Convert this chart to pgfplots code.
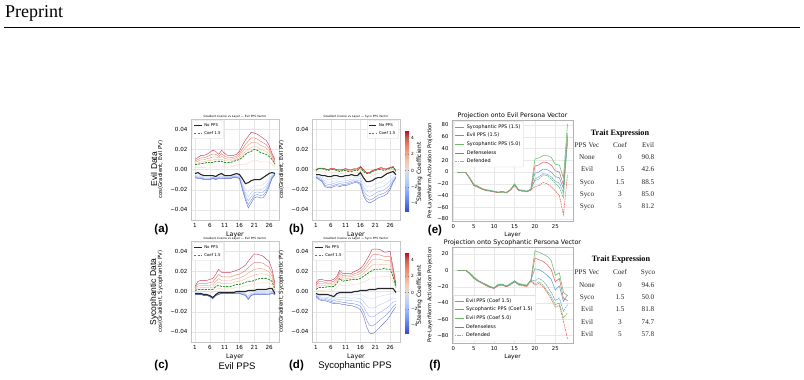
\documentclass[border=0pt]{standalone}
\usepackage{fontspec}
\usepackage{pgfplots}
\usepackage{pgfplotstable}
\pgfplotsset{compat=1.18}
\setmainfont{DejaVu Sans}
\newfontfamily\lsans{Liberation Sans}
\newfontfamily\lserif{Liberation Serif}
\newcommand\fs[1]{\fontsize{#1}{#1}\selectfont}

% coolwarm shades for steering coefficients -5 ... 5
\definecolor{cwm5}{RGB}{59,76,192}
\definecolor{cwm4}{RGB}{89,118,226}
\definecolor{cwm3}{RGB}{124,159,249}
\definecolor{cwm2}{RGB}{160,190,254}
\definecolor{cwm1}{RGB}{192,212,245}
\definecolor{cwp1}{RGB}{242,203,183}
\definecolor{cwp2}{RGB}{246,167,137}
\definecolor{cwp3}{RGB}{238,132,104}
\definecolor{cwp4}{RGB}{217,90,71}
\definecolor{cwp5}{RGB}{180,4,38}
\definecolor{coefgreen}{RGB}{44,150,44}
\definecolor{pblue}{RGB}{98,160,203}
\definecolor{pred}{RGB}{226,104,105}
\definecolor{pgreen}{RGB}{107,189,107}
\pgfplotsset{colormap={coolwarm}{rgb255=(59,76,192) rgb255=(89,118,226) rgb255=(124,159,249) rgb255=(160,190,254) rgb255=(192,212,245) rgb255=(221,221,221) rgb255=(242,203,183) rgb255=(246,167,137) rgb255=(238,132,104) rgb255=(217,90,71) rgb255=(180,4,38)}}

% gradient cosine per layer, in units of 1e-3; columns = steering coefficient
\pgfplotstableread{
L m5 m4 m3 m2 m1 z p1 p2 p3 p4 p5 g
1 -8 -7.5 -6.9 -6.2 -5.4 -4 1.9 6.0 7.3 8.5 10 5
2 -9 -8.2 -7.3 -6.3 -5.1 -3 2.2 6.4 8.2 9.9 12 5
3 -9 -8.5 -7.9 -7.2 -6.4 -5 2.2 7.6 9.6 11.6 14 6
4 -10 -9.5 -8.9 -8.2 -7.4 -6 1.8 7.6 9.6 11.6 14 6
5 -10 -9.5 -8.9 -8.2 -7.4 -6 2.5 8.6 10.6 12.6 15 7
6 -10 -9.5 -8.9 -8.2 -7.4 -6 2.5 9.0 11.5 14.0 17 7
7 -9 -8.6 -8.2 -7.7 -7.1 -6 2.5 9.4 12.4 15.4 19 7
8 -10 -9.6 -9.2 -8.7 -8.1 -7 2.8 10.0 12.5 15.0 18 8
9 -9 -8.5 -7.9 -7.2 -6.4 -5 3.5 9.4 11.2 12.9 15 8
10 -9 -8.4 -7.6 -6.8 -5.8 -4 3.8 10.2 13.0 15.7 19 8
11 -9 -8.6 -8.2 -7.7 -7.1 -6 2.5 8.8 11.1 13.3 16 7
12 -9 -8.6 -8.2 -7.7 -7.1 -6 2.5 8.4 10.2 11.9 14 7
13 -9 -8.6 -8.2 -7.7 -7.1 -6 2.5 8.4 10.2 11.9 14 7
14 -8 -7.6 -7.2 -6.7 -6.1 -5 3.5 9.2 10.7 12.2 14 8
15 -8 -7.5 -6.9 -6.2 -5.4 -4 4.5 10.2 11.7 13.2 15 9
16 -9 -8.5 -7.9 -7.2 -6.4 -5 4.8 11.6 13.6 15.6 18 10
17 -20 -18.6 -16.9 -15.1 -12.9 -9 4.7 14.4 17.4 20.4 24 12
18 -30 -27.9 -25.5 -22.8 -19.6 -14 4.9 17.8 21.3 24.8 29 15
19 -38 -34.8 -31.0 -26.8 -21.8 -13 6.5 20.2 24.2 28.2 33 17
20 -33 -30.1 -26.8 -23.1 -18.7 -11 7.9 21.8 26.6 31.3 37 18
21 -28 -25.7 -23.0 -19.9 -16.3 -10 9.5 23.2 27.2 31.2 36 20
22 -27 -24.8 -22.2 -19.4 -16.0 -10 8.9 22.2 26.2 30.2 35 19
23 -28 -25.7 -23.0 -19.9 -16.3 -10 7.6 20.2 24.2 28.2 33 17
24 -28 -25.4 -22.4 -19.0 -15.0 -8 7.6 19.0 22.8 26.5 31 16
25 -24 -21.7 -19.0 -15.9 -12.3 -6 7.7 17.8 21.3 24.8 29 15
26 -17 -15.3 -13.4 -11.2 -8.6 -4 7.1 15.2 18.0 20.7 24 13
27 -9 -8.2 -7.3 -6.3 -5.1 -3 5.5 11.2 12.7 14.2 16 10
28 -5 -4.8 -4.6 -4.4 -4.2 -4 1.9 6.0 7.3 8.5 10 5
}\evilEvil

\pgfplotstableread{
L m5 m4 m3 m2 m1 z p1 p2 p3 p4 p5 g
1 -8 -7.6 -7.1 -6.5 -5.8 -5 -2.8 -0.7 -0.4 -0.2 0 -1
2 -10 -9.4 -8.5 -7.5 -6.3 -5 -1.7 0.8 1.0 1.2 1.4 1
3 -12 -11.2 -10.2 -9.0 -7.5 -6 -2.2 0.8 1.0 1.2 1.4 1
4 -17 -15.6 -13.7 -11.5 -8.8 -6 -2.7 0.2 0.4 0.6 0.8 0
5 -18 -16.6 -14.7 -12.5 -9.8 -7 -3.7 -0.7 -0.4 -0.2 0 -1
6 -18 -16.6 -14.7 -12.5 -9.8 -7 -3.2 0.3 0.6 0.8 1 0
7 -17 -15.6 -13.7 -11.5 -8.8 -6 -2.7 0.3 0.6 0.8 1 0
8 -16 -14.7 -13.0 -11.0 -8.5 -6 -3.3 -0.7 -0.4 -0.2 0 -1
9 -17 -15.7 -14.0 -12.0 -9.5 -7 -4.3 -1.4 -0.8 -0.4 0 -2
10 -16 -14.8 -13.3 -11.5 -9.3 -7 -3.7 -0.7 -0.4 -0.2 0 -1
11 -16 -14.7 -13.0 -11.0 -8.5 -6 -3.3 -0.4 0.2 0.6 1 -1
12 -15 -13.8 -12.3 -10.5 -8.3 -6 -3.8 -1.4 -0.8 -0.4 0 -2
13 -14 -12.8 -11.3 -9.5 -7.3 -5 -3.4 -1.4 -0.8 -0.4 0 -2
14 -13 -12.1 -10.9 -9.5 -7.8 -6 -3.3 -0.4 0.2 0.6 1 -1
15 -13 -12.1 -10.9 -9.5 -7.8 -6 -3.3 -0.4 0.2 0.6 1 -1
16 -15 -13.4 -11.4 -9.0 -6.0 -3 -0.3 2.3 2.6 2.8 3 2
17 -26 -23.7 -20.6 -17.0 -12.5 -8 -4.7 -1.4 -0.8 -0.4 0 -2
18 -31 -28.5 -25.3 -21.5 -16.8 -12 -7.6 -3.7 -3.4 -3.2 -3 -4
19 -33 -30.3 -26.7 -22.5 -17.3 -12 -7.6 -3.7 -3.4 -3.2 -3 -4
20 -32 -29.3 -25.7 -21.5 -16.3 -11 -6.1 -1.7 -1.4 -1.2 -1 -2
21 -30 -27.3 -23.7 -19.5 -14.3 -9 -4.6 -0.7 -0.4 -0.2 0 -1
22 -28 -25.4 -22.0 -18.0 -13.0 -8 -3.6 0.3 0.6 0.8 1 0
23 -27 -24.5 -21.3 -17.5 -12.8 -8 -3.6 0.6 1.2 1.6 2 0
24 -26 -23.4 -20.0 -16.0 -11.0 -6 -3.3 -0.4 0.2 0.6 1 -1
25 -24 -21.4 -18.0 -14.0 -9.0 -4 -1.8 0.3 0.6 0.8 1 0
26 -20 -17.8 -14.9 -11.5 -7.3 -3 -0.8 1.3 1.6 1.8 2 1
27 -13 -11.6 -9.7 -7.5 -4.8 -2 0.2 2.3 2.6 2.8 3 2
28 -8 -7.6 -7.1 -6.5 -5.8 -5 -2.8 -1.3 -1.6 -1.8 -2 -1
}\evilSyco

\pgfplotstableread{
L m5 m4 m3 m2 m1 z p1 p2 p3 p4 p5 g
1 -3 -2.9 -2.8 -2.6 -2.3 -2 -0.2 1.8 2.7 3.7 5 1
2 -3 -2.9 -2.8 -2.6 -2.3 -2 0.4 3.6 5.4 7.4 10 2
3 -3 -2.9 -2.8 -2.6 -2.3 -2 0.4 3.8 5.8 8.1 11 2
4 -4 -3.9 -3.8 -3.6 -3.3 -3 0 3.8 5.8 8.1 11 2
5 -4 -3.9 -3.8 -3.6 -3.3 -3 0 3.8 5.8 8.1 11 2
6 -5 -4.9 -4.8 -4.6 -4.3 -4 -0.4 4.0 6.2 8.8 12 2
7 -7 -6.9 -6.8 -6.6 -6.3 -6 -1.2 4.2 6.6 9.5 13 2
8 -4 -3.9 -3.8 -3.6 -3.3 -3 1.8 7.4 10.0 13.2 17 5
9 -3 -2.8 -2.5 -2.1 -1.6 -1 3.2 9.2 12.7 16.9 22 6
10 -2 -1.9 -1.8 -1.6 -1.3 -1 2.6 7.8 10.9 14.5 19 5
11 -2 -1.9 -1.8 -1.6 -1.3 -1 2.6 7.8 10.9 14.5 19 5
12 -2 -1.9 -1.8 -1.6 -1.3 -1 2.6 7.8 10.9 14.5 19 5
13 -2 -1.9 -1.8 -1.6 -1.3 -1 2.6 7.8 10.9 14.5 19 5
14 -2 -1.9 -1.8 -1.6 -1.3 -1 3.2 8.8 11.9 15.5 20 6
15 -2 -1.8 -1.5 -1.1 -0.6 0 4.2 9.8 12.9 16.5 21 7
16 -2 -1.8 -1.5 -1.1 -0.6 0 4.2 10.0 13.3 17.2 22 7
17 -3 -2.7 -2.3 -1.7 -0.9 0 4.8 11.2 14.7 18.9 24 8
18 -4 -3.6 -3.0 -2.2 -1.2 0 5.4 12.4 16.1 20.6 26 9
19 -8 -7.1 -5.8 -4.0 -1.7 1 6.4 14.0 18.4 23.6 30 10
20 -4 -3.5 -2.8 -1.8 -0.5 1 6.4 14.8 20.1 26.3 34 10
21 -3 -2.6 -2.0 -1.2 -0.2 1 7.0 16.2 21.9 28.7 37 11
22 -3 -2.5 -1.8 -0.8 0.5 2 8.0 17.0 22.5 29.0 37 12
23 -3 -2.5 -1.8 -0.8 0.5 2 8.6 17.6 22.7 28.6 36 13
24 -3 -2.5 -1.8 -0.8 0.5 2 8.6 17.4 22.2 28.0 35 13
25 -3 -2.5 -1.8 -0.8 0.5 2 8.6 16.8 21.0 25.9 32 13
26 -3 -2.4 -1.5 -0.3 1.2 3 8.4 15.6 19.6 24.2 30 12
27 -2 -1.5 -0.8 0.3 1.5 3 7.2 12.4 15.0 18.2 22 10
28 -3 -2.9 -2.8 -2.6 -2.3 -2 0.4 3.2 4.5 6.1 8 2
}\sycoEvil

\pgfplotstableread{
L m5 m4 m3 m2 m1 z p1 p2 p3 p4 p5 g
1 -5 -4.5 -3.9 -3.3 -2.6 -2 0.4 3.5 5.0 6.4 8 2
2 -8 -7.1 -6.1 -5.1 -4.0 -3 1.2 6.0 8.0 9.8 12 4
3 -9 -7.9 -6.7 -5.5 -4.2 -3 1.2 6.0 8.0 9.8 12 4
4 -9 -7.9 -6.7 -5.5 -4.2 -3 1.2 5.8 7.5 9.1 11 4
5 -10 -8.7 -7.3 -5.9 -4.4 -3 1.8 6.5 8.0 9.4 11 5
6 -11 -9.7 -8.3 -6.9 -5.4 -4 1.4 6.5 8.0 9.4 11 5
7 -12 -10.7 -9.3 -7.9 -6.4 -5 1.0 6.8 8.5 10.1 12 5
8 -12 -10.2 -8.2 -6.2 -4.0 -2 4.0 9.8 11.5 13.1 15 8
9 -12 -10.0 -7.8 -5.6 -3.2 -1 7.4 15.0 17.0 18.8 21 13
10 -13 -10.8 -8.4 -6.0 -3.4 -1 5.6 12.0 14.0 15.8 18 10
11 -13 -10.8 -8.4 -6.0 -3.4 -1 6.2 12.8 14.5 16.1 18 11
12 -14 -11.7 -9.1 -6.5 -3.6 -1 6.2 12.8 14.5 16.1 18 11
13 -14 -11.7 -9.1 -6.5 -3.6 -1 6.8 13.5 15.0 16.4 18 12
14 -15 -12.3 -9.3 -6.3 -3.0 0 7.2 14.0 16.0 17.8 20 12
15 -16 -13.1 -9.9 -6.7 -3.2 0 7.2 14.3 16.5 18.6 21 12
16 -18 -14.6 -10.8 -7.0 -2.8 1 8.2 15.5 18.0 20.3 23 13
17 -24 -19.5 -14.5 -9.5 -4.0 1 9.4 17.8 20.5 23.0 26 15
18 -34 -27.7 -20.7 -13.7 -6.0 1 10.6 20.5 24.0 27.2 31 17
19 -41 -33.3 -24.7 -16.1 -6.6 2 12.2 23.3 27.5 31.4 36 19
20 -42 -34.1 -25.3 -16.5 -6.8 2 13.4 26.3 31.5 36.3 42 21
21 -40 -32.4 -24.0 -15.6 -6.4 2 14.0 27.0 32.0 36.6 42 22
22 -37 -29.8 -21.8 -13.8 -5.0 3 14.4 27.0 32.0 36.6 42 22
23 -34 -27.3 -19.9 -12.5 -4.4 3 14.4 26.8 31.5 35.9 41 22
24 -31 -24.9 -18.1 -11.3 -3.8 3 15.0 27.0 31.0 34.7 39 23
25 -28 -22.4 -16.2 -10.0 -3.2 3 14.4 26.3 30.5 34.4 39 22
26 -24 -19.1 -13.7 -8.3 -2.4 3 14.4 26.5 31.0 35.1 40 22
27 -19 -15.0 -10.6 -6.2 -1.4 3 10.2 17.3 19.5 21.6 24 15
28 -15 -12.5 -9.7 -6.9 -3.8 -1 2.0 4.8 5.5 6.2 7 4
}\sycoSyco

% pre-LayerNorm projections; d = defenseless, D = defended
\pgfplotstableread{
L sd ed gd sD eD gD
1 -1 -1 -1 -1 -1 -1
2 -1 -1 -1 -1 -1 -1
3 -1 -1 -1 -1 -1 -1
4 -10 -11 -10 -10 -11 -10
5 -22 -23 -21 -22 -23 -22
6 -25 -26 -24 -25 -25 -25
7 -29 -29 -28 -29 -30 -29
8 -31 -32 -30 -31 -31 -31
9 -32 -32 -31 -32 -33 -32
10 -33 -34 -33 -33 -34 -33
11 -35 -35 -34 -35 -35 -35
12 -34 -33 -33 -34 -34 -34
13 -35 -36 -35 -35 -35 -35
14 -30 -31 -30 -30 -31 -30
15 -21 -23 -20 -22 -22 -21
16 -31 -31 -30 -31 -32 -31
17 -32 -32 -31 -32 -33 -32
18 -33 -34 -33 -33 -33 -33
19 -30 -31 -29 -31 -31 -30
20 -2 10 22 -12 -25 -15
21 0 12 24 -8 -23 -12
22 5 17 28 -3 -18 -5
23 4 16 28 -4 -20 -6
24 0 12 25 -8 -25 -12
25 -8 2 13 -16 -32 -20
26 -10 0 12 -19 -40 -26
27 -28 -22 -10 -36 -73 -44
28 56 62 82 50 -5 66
}\projEvil

\pgfplotstableread{
L sd ed gd sD eD gD
1 0 0 0 0 0 0
2 0 0 0 0 0 0
3 0 0 0 0 0 0
4 -4 -4 -3 -4 -4 -4
5 -9 -9 -8 -9 -10 -9
6 -13 -13 -12 -13 -13 -13
7 -15 -16 -15 -15 -15 -15
8 -18 -18 -17 -18 -19 -18
9 -20 -21 -20 -20 -21 -20
10 -22 -22 -21 -22 -22 -22
11 -18 -18 -17 -18 -19 -18
12 -17 -18 -17 -17 -18 -17
13 -20 -20 -19 -20 -20 -20
14 -17 -17 -16 -17 -18 -17
15 -13 -14 -13 -13 -14 -13
16 -17 -17 -16 -17 -18 -17
17 -18 -18 -17 -18 -19 -18
18 -19 -19 -18 -19 -20 -19
19 -12 -13 -12 -12 -13 -12
20 2 15 24 -13 -18 -16
21 1 13 22 -10 -16 -14
22 -2 11 20 -13 -20 -18
23 -6 7 17 -19 -27 -25
24 -11 1 12 -27 -35 -32
25 -24 -14 -6 -37 -45 -42
26 -19 -10 -3 -34 -43 -40
27 -38 -34 -27 -50 -62 -58
28 -30 -37 -31 -42 -84 -52
}\projSyco

\pgfplotsset{
  /pgf/number format/assume math mode=true,
  fan/.style={#1, line width=0.45pt, opacity=0.75, forget plot},
  gcos/.style={
    scale only axis, width=88pt, height=101pt,
    xmin=-0.35, xmax=29.35, ymin=-50, ymax=50,
    xtick={1,6,11,16,21,26}, xticklabels={1,6,11,16,21,26},
    ytick={-40,-20,0,20,40},
    yticklabels={−0.04,−0.02,0.00,0.02,0.04},
    grid=major, major grid style={gray!20, line width=0.35pt},
    axis line style={gray!45, line width=0.4pt},
    major tick length=0pt,
    tick label style={font=\fs{5.6}},
    xlabel={Layer}, xlabel style={font=\fs{6.3}, yshift=3pt},
    ylabel style={font=\fs{5.4}, yshift=0.5pt},
    title style={font=\fs{2.9}, yshift=-8.5pt},
    legend cell align=left,
    legend image code/.code={\draw[##1] (0pt,0pt) -- (7.5pt,0pt);},
    legend style={font=\fs{3.9}, draw=gray!35, fill=white, rounded corners=0.8pt,
      inner xsep=1.2pt, inner ysep=0.6pt, row sep=-0.5pt, line width=0.3pt,
      at={(0.015,0.985)}, anchor=north west},
  },
  proj/.style={
    scale only axis, width=121pt,
    xmin=-0.35, xmax=29.35,
    xtick={0,5,10,15,20,25}, xticklabels={0,5,10,15,20,25},
    grid=major, major grid style={gray!18, line width=0.35pt},
    axis line style={gray!60, line width=0.45pt},
    major tick length=0pt,
    tick label style={font=\fs{5.3}},
    xlabel={Layer}, xlabel style={font=\fs{5.9}, yshift=3pt},
    ylabel={Pre-LayerNorm Activation Projection},
    ylabel style={font=\fs{5.3}, yshift=-2pt},
    title style={font=\fs{6.3}, yshift=-8pt},
    legend cell align=left,
    legend image code/.code={\draw[##1] (0pt,0pt) -- (9pt,0pt);},
    legend style={font=\fs{4.9}, draw=gray!40, fill=white, rounded corners=1pt,
      inner xsep=1.2pt, inner ysep=0.8pt, row sep=-0.6pt, line width=0.3pt},
  },
  cbar/.style={
    colorbar, colormap name=coolwarm, point meta min=-5, point meta max=5,
    colorbar style={at={(parent axis.north east)}, anchor=north west,
      xshift=-3.5pt, yshift=-11pt, scale only axis, width=4pt, height=81pt,
      ytick={-4,-2,0,2,4}, yticklabels={−4,−2,0,2,4},
      yticklabel style={font=\fs{4.3}, xshift=-1.5pt},
      major tick length=1.2pt, tick style={gray, line width=0.3pt},
      axis line style={draw=none}},
  },
}

\newcommand\gradlines[1]{%
  \addplot[fan=cwm1] table[x=L,y=m1]{#1};
  \addplot[fan=cwp1] table[x=L,y=p1]{#1};
  \addplot[fan=cwm2] table[x=L,y=m2]{#1};
  \addplot[fan=cwp2] table[x=L,y=p2]{#1};
  \addplot[fan=cwm3] table[x=L,y=m3]{#1};
  \addplot[fan=cwp3] table[x=L,y=p3]{#1};
  \addplot[fan=cwm4] table[x=L,y=m4]{#1};
  \addplot[fan=cwp4] table[x=L,y=p4]{#1};
  \addplot[fan=cwm5] table[x=L,y=m5]{#1};
  \addplot[fan=cwp5] table[x=L,y=p5]{#1};
  \addplot[black!85, line width=1.1pt] table[x=L,y=z]{#1};
  \addlegendentry{No PPS}
  \addplot[coefgreen, line width=0.85pt, dash pattern=on 2.2pt off 1.1pt] table[x=L,y=g]{#1};
  \addlegendentry{Coef 1.5}
}

\newcommand\projlines[1]{%
  \addplot[pblue, line width=0.55pt, forget plot] table[x=L,y=sd]{#1};
  \addplot[pred, line width=0.55pt, forget plot] table[x=L,y=ed]{#1};
  \addplot[pgreen, line width=0.55pt, forget plot] table[x=L,y=gd]{#1};
  \addplot[pblue, line width=0.55pt, dash pattern=on 2pt off 0.7pt, forget plot] table[x=L,y=sD]{#1};
  \addplot[pred, line width=0.55pt, dash pattern=on 2pt off 0.7pt, forget plot] table[x=L,y=eD]{#1};
  \addplot[pgreen, line width=0.55pt, dash pattern=on 2pt off 0.7pt, forget plot] table[x=L,y=gD]{#1};
}

\newcommand\tabrow[4]{%
  \node[font=\lserif\fs{7.2}, text=black!85, anchor=base] at (587pt,{-(#1pt+2.4pt)}) {#2};
  \node[font=\lserif\fs{7.2}, text=black!85, anchor=base] at (620pt,{-(#1pt+2.4pt)}) {#3};
  \node[font=\lserif\fs{7.2}, text=black!85, anchor=base] at (648pt,{-(#1pt+2.4pt)}) {#4};
}

\begin{document}
\begin{tikzpicture}
\path[use as bounding box] (0,0) rectangle (804pt,-380pt);

% running header
\node[font=\lserif\fs{18}, anchor=base west, inner sep=0pt] at (5pt,-17.5pt) {Preprint};
\draw[line width=0.8pt] (4pt,-27pt) -- (800pt,-27pt);

% (a) evil data, evil PPS
\begin{axis}[gcos, at={(191pt,-220pt)}, anchor=south west,
  title={Gradient Cosine vs Layer — Evil PPS Vector},
  ylabel={cos(Gradient, Evil PV)}]
\gradlines{\evilEvil}
\end{axis}

% (b) evil data, sycophantic PPS
\begin{axis}[gcos, cbar, at={(312pt,-220pt)}, anchor=south west,
  title={Gradient Cosine vs Layer — Syco PPS Vector},
  ylabel={cos(Gradient, Evil PV)},
  legend style={at={(0.985,0.985)}, anchor=north east}]
\gradlines{\evilSyco}
\end{axis}

% (c) sycophantic data, evil PPS
\begin{axis}[gcos, at={(191pt,-342pt)}, anchor=south west,
  title={Gradient Cosine vs Layer — Evil PPS Vector},
  ylabel={cos(Gradient, Sycophantic PV)}]
\gradlines{\sycoEvil}
\end{axis}

% (d) sycophantic data, sycophantic PPS
\begin{axis}[gcos, cbar, at={(312pt,-342pt)}, anchor=south west,
  title={Gradient Cosine vs Layer — Syco PPS Vector},
  ylabel={cos(Gradient, Sycophantic PV)}]
\gradlines{\sycoSyco}
\end{axis}

% (e) projection onto the evil persona vector
\begin{axis}[proj, at={(452pt,-221pt)}, anchor=south west, height=101pt,
  ymin=-83.5, ymax=88.5,
  ytick={-80,-60,-40,-20,0,20,40,60,80},
  yticklabels={−80,−60,−40,−20,0,20,40,60,80},
  title={Projection onto Evil Persona Vector},
  legend style={at={(0.015,0.985)}, anchor=north west}]
\addlegendimage{pblue, line width=0.6pt}
\addlegendentry{Sycophantic PPS (1.5)}
\addlegendimage{pred, line width=0.6pt}
\addlegendentry{Evil PPS (1.5)}
\addlegendimage{pgreen, line width=0.6pt}
\addlegendentry{Sycophantic PPS (5.0)}
\addlegendimage{gray, line width=0.6pt}
\addlegendentry{Defenseless}
\addlegendimage{gray!70, line width=0.6pt, dash pattern=on 1.5pt off 0.8pt}
\addlegendentry{Defended}
\projlines{\projEvil}
\end{axis}

% (f) projection onto the sycophantic persona vector
\begin{axis}[proj, at={(452pt,-343pt)}, anchor=south west, height=96pt,
  ymin=-89, ymax=28.6,
  ytick={-80,-60,-40,-20,0,20},
  yticklabels={−80,−60,−40,−20,0,20},
  title={Projection onto Sycophantic Persona Vector},
  legend style={at={(0.01,0.02)}, anchor=south west}]
\addlegendimage{pblue, line width=0.6pt}
\addlegendentry{Evil PPS (Coef 1.5)}
\addlegendimage{pred, line width=0.6pt}
\addlegendentry{Sycophantic PPS (Coef 1.5)}
\addlegendimage{pgreen, line width=0.6pt}
\addlegendentry{Evil PPS (Coef 5.0)}
\addlegendimage{gray, line width=0.6pt}
\addlegendentry{Defenseless}
\addlegendimage{gray!70, line width=0.6pt, dash pattern=on 1.5pt off 0.8pt}
\addlegendentry{Defended}
\projlines{\projSyco}
\end{axis}

% row and colour-bar labels
\node[rotate=90, font=\lsans\fs{8.5}] at (154pt,-169pt) {Evil Data};
\node[rotate=90, font=\lsans\fs{8.5}] at (154pt,-292pt) {Sycophantic Data};
\node[rotate=90, font=\fs{6}] at (419.5pt,-172pt) {Steering Coefficient};
\node[rotate=90, font=\fs{6}] at (419.5pt,-295pt) {Steering Coefficient};

% panel letters and captions
\node[font=\lsans\bfseries\fs{11.5}] at (161.5pt,-230pt) {(a)};
\node[font=\lsans\bfseries\fs{11.5}] at (296.5pt,-230pt) {(b)};
\node[font=\lsans\bfseries\fs{11.5}] at (435pt,-231pt) {(e)};
\node[font=\lsans\bfseries\fs{11.5}] at (161.5pt,-366pt) {(c)};
\node[font=\lsans\bfseries\fs{11.5}] at (296.5pt,-366pt) {(d)};
\node[font=\lsans\bfseries\fs{11.5}] at (435pt,-366pt) {(f)};
\node[font=\lsans\fs{9.5}] at (237pt,-366pt) {Evil PPS};
\node[font=\lsans\fs{9.5}] at (355pt,-366pt) {Sycophantic PPS};

% trait expression tables
\node[font=\lserif\bfseries\fs{8.2}] at (620pt,-134pt) {Trait Expression};
\tabrow{145}{PPS Vec}{Coef}{Evil}
\tabrow{157.2}{None}{0}{90.8}
\tabrow{169.5}{Evil}{1.5}{42.6}
\tabrow{181.8}{Syco}{1.5}{88.5}
\tabrow{194.1}{Syco}{3}{85.0}
\tabrow{206.4}{Syco}{5}{81.2}

\node[font=\lserif\bfseries\fs{8.2}] at (621pt,-260pt) {Trait Expression};
\tabrow{272.4}{PPS Vec}{Coef}{Syco}
\tabrow{284.6}{None}{0}{94.6}
\tabrow{297}{Syco}{1.5}{50.0}
\tabrow{309.4}{Evil}{1.5}{81.8}
\tabrow{321.8}{Evil}{3}{74.7}
\tabrow{334.2}{Evil}{5}{57.8}
\end{tikzpicture}
\end{document}
